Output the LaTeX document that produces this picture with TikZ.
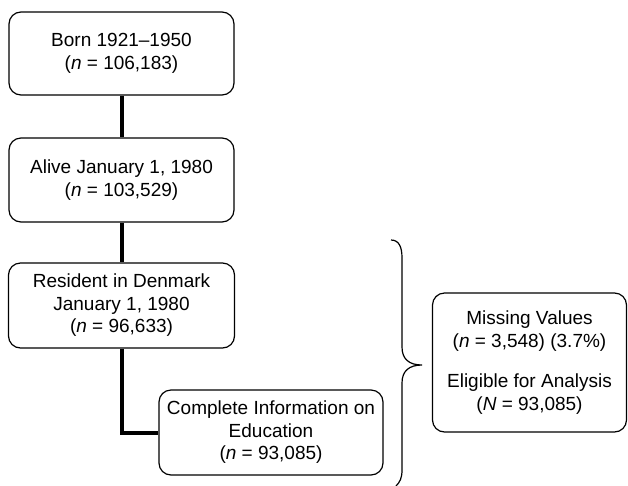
\documentclass[tikz,border=0pt]{standalone}
\usepackage{fontspec}
\setmainfont{Liberation Sans}
\begin{document}
\begin{tikzpicture}[x=1pt,y=-1pt,
  flowbox/.style={draw, line width=1.2pt, rounded corners=12pt, align=center,
    inner sep=0pt, font=\fontsize{19}{22.5}\selectfont},
  link/.style={line width=4pt}]
\useasboundingbox (0,0) rectangle (628,485);
\node[flowbox, minimum width=225pt, minimum height=83pt] (b1) at (121.5,53.5)
  {Born 1921--1950\\(\textit{n} = 106,183)};
\node[flowbox, minimum width=225pt, minimum height=84pt] (b2) at (121.5,180)
  {Alive January 1, 1980\\(\textit{n} = 103,529)};
\node[flowbox, minimum width=226pt, minimum height=85pt] (b3) at (121.5,305.5)
  {Resident in Denmark\\January 1, 1980\\(\textit{n} = 96,633)};
\node[flowbox, minimum width=224pt, minimum height=85pt] (b4) at (271,432.5)
  {Complete Information on\\Education\\(\textit{n} = 93,085)};
\node[flowbox, minimum width=194pt, minimum height=139pt] (b5) at (529.5,362.5)
  {Missing Values\\(\textit{n} = 3,548) (3.7\%)\\[18pt]Eligible for Analysis\\(\textit{N} = 93,085)};
\draw[link] (b1.south) -- (b2.north);
\draw[link] (b2.south) -- (b3.north);
\draw[link] (b3.south) |- (b4.west);
\draw[line width=1.2pt] (391,240) .. controls (399,240) and (402,247) .. (402,258)
  -- (402,347) .. controls (402,359) and (409,365) .. (422,365)
  .. controls (409,365) and (402,371) .. (402,383)
  -- (402,470) .. controls (402,478) and (400,482) .. (396,486);
\end{tikzpicture}
\end{document}
